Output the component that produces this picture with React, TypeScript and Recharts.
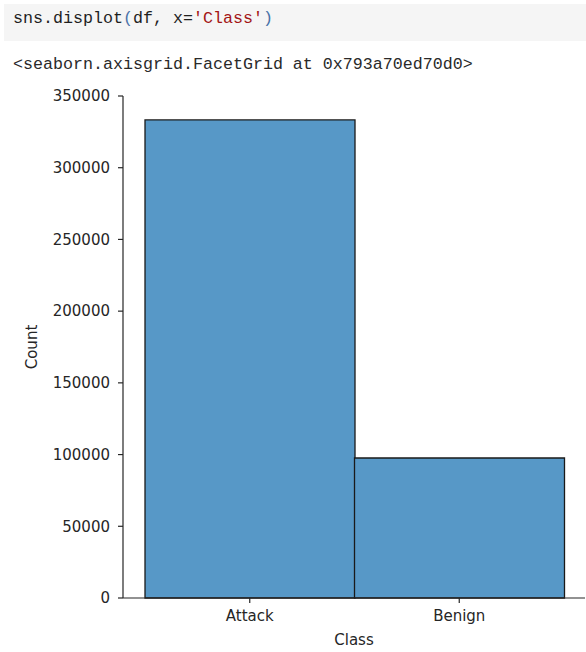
import React from 'react';
import { BarChart, Bar, XAxis, YAxis } from 'recharts';

// Counts per class
const classes = ['Attack', 'Benign'];
const counts = [333300, 97600];
const yTicks = [0, 50000, 100000, 150000, 200000, 250000, 300000, 350000];

const data = classes.map((c, i) => ({ name: c, count: counts[i] }));

const tickFont = { fontFamily: 'DejaVu Sans', fontSize: 15, fill: '#262626' };
const mono = "'Liberation Mono', 'DejaVu Sans Mono', monospace";

const YLabel = (props: any) => {
  const vb = props.viewBox || {};
  const cx = 32;
  const cy = vb.y + vb.height / 2;
  return (
    <text x={cx} y={cy} transform={`rotate(-90 ${cx} ${cy})`} textAnchor="middle" dominantBaseline="central" {...tickFont}>
      Count
    </text>
  );
};

const XLabel = (props: any) => {
  const vb = props.viewBox || {};
  const cx = vb.x + vb.width / 2;
  return (
    <text x={cx} y={640} textAnchor="middle" dominantBaseline="central" {...tickFont}>
      Class
    </text>
  );
};

export default function App() {
  return (
    <div style={{ position: 'absolute', left: 0, top: 0, width: 586, height: 652, background: '#fff' }}>
      <div
        style={{
          position: 'absolute',
          left: 4,
          top: 4,
          width: 582,
          height: 37,
          background: '#f5f5f5',
        }}
      />
      <div
        style={{
          position: 'absolute',
          left: 13,
          top: 9,
          fontFamily: mono,
          fontSize: 16.67,
          lineHeight: '20px',
          color: '#1f1f1f',
          whiteSpace: 'pre',
        }}
      >
        sns.displot<span style={{ color: '#4a72a8' }}>(</span>df, x=<span style={{ color: '#a31515' }}>'Class'</span>
        <span style={{ color: '#4a72a8' }}>)</span>
      </div>
      <div
        style={{
          position: 'absolute',
          left: 13,
          top: 55,
          fontFamily: mono,
          fontSize: 16.67,
          lineHeight: '20px',
          color: '#2a2a2a',
          whiteSpace: 'pre',
        }}
      >
        {'<seaborn.axisgrid.FacetGrid at 0x793a70ed70d0>'}
      </div>
      <div style={{ position: 'absolute', left: 0, top: 0 }}>
        <BarChart
          width={586}
          height={652}
          data={data}
          margin={{ top: 96, right: 1, bottom: 24, left: 0 }}
          barCategoryGap={0}
        >
          <XAxis
            dataKey="name"
            height={30}
            padding={{ left: 22, right: 21 }}
            tick={tickFont}
            tickSize={5}
            tickMargin={7}
            axisLine={{ stroke: '#262626', strokeWidth: 1.2 }}
            tickLine={{ stroke: '#262626', strokeWidth: 1.2 }}
            label={<XLabel />}
          />
          <YAxis
            width={123}
            domain={[0, 350000]}
            ticks={yTicks}
            interval={0}
            tick={tickFont}
            tickSize={5}
            tickMargin={8}
            axisLine={{ stroke: '#262626', strokeWidth: 1.2 }}
            tickLine={{ stroke: '#262626', strokeWidth: 1.2 }}
            label={<YLabel />}
          />
          <Bar dataKey="count" fill="#5798c7" stroke="#1a1a1a" strokeWidth={1.3} isAnimationActive={false} />
        </BarChart>
      </div>
    </div>
  );
}
